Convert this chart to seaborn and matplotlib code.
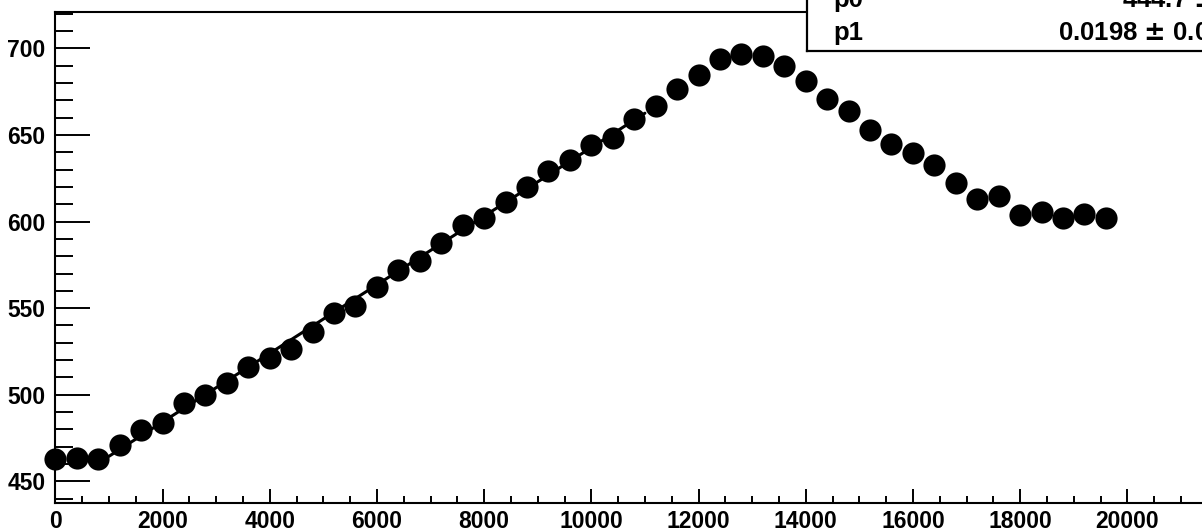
import matplotlib
matplotlib.use("Agg")
import matplotlib.pyplot as plt
from matplotlib.ticker import MultipleLocator
import seaborn as sns
import pandas as pd

# measured points (x step of 400)
x_vals = [0, 400, 800, 1200, 1600, 2000, 2400, 2800, 3200, 3600,
          4000, 4400, 4800, 5200, 5600, 6000, 6400, 6800, 7200, 7600,
          8000, 8400, 8800, 9200, 9600, 10000, 10400, 10800, 11200, 11600,
          12000, 12400, 12800, 13200, 13600, 14000, 14400, 14800, 15200, 15600,
          16000, 16400, 16800, 17200, 17600, 18000, 18400, 18800, 19200, 19600]
y_vals = [463, 463.5, 463, 471, 479.5, 484, 495, 500, 507, 516,
          521.5, 526.5, 536.5, 547, 551.5, 562, 572, 577, 587.5, 598,
          602, 611, 620, 629, 635.5, 644, 648, 659, 666.5, 676.5,
          684.5, 694, 696.5, 695.5, 690, 681, 670.5, 664, 653, 644.5,
          639.5, 632.5, 622.5, 613, 614.5, 604, 605.5, 602, 604.5, 602]

# linear fit shown in the stats box
p0 = 444.7
p1 = 0.0198
fit_range = [1000, 11000]

y_ticks = [450, 500, 550, 600, 650, 700]
x_ticks = [0, 2000, 4000, 6000, 8000, 10000, 12000, 14000, 16000, 18000, 20000]

df = pd.DataFrame({"x": x_vals, "y": y_vals})
fit_df = pd.DataFrame({"x": fit_range, "y": [p0 + p1 * v for v in fit_range]})

sns.set_style("ticks")
plt.rcParams["font.family"] = ["Liberation Sans", "DejaVu Sans"]
plt.rcParams["font.weight"] = "bold"
for key in ["text.color", "axes.labelcolor", "xtick.color", "ytick.color",
            "axes.edgecolor"]:
    plt.rcParams[key] = "black"

W, H = 1202, 531
fig = plt.figure(figsize=(W / 100, H / 100), dpi=100)
fig.patch.set_facecolor("white")

left_px, bottom_px, top_px = 55.3, 503.3, 12.0
x_scale = 0.0536  # px per unit
xmax = 22000
ax = fig.add_axes([left_px / W, (H - bottom_px) / H,
                   xmax * x_scale / W, (bottom_px - top_px) / H])

sns.lineplot(data=fit_df, x="x", y="y", ax=ax, color="black", linewidth=2.2, zorder=2)
sns.scatterplot(data=df, x="x", y="y", ax=ax, color="black", s=255,
                linewidth=0, zorder=3, clip_on=False)

ax.set_xlim(0, xmax)
ax.set_ylim(437.4, 720.9)
ax.set_xlabel("")
ax.set_ylabel("")

ax.set_xticks(x_ticks)
ax.set_yticks(y_ticks)
ax.xaxis.set_minor_locator(MultipleLocator(500))
ax.yaxis.set_minor_locator(MultipleLocator(10))
ax.tick_params(axis="y", which="major", direction="in", length=25, width=1.4,
               pad=7, labelsize=16.5)
ax.tick_params(axis="y", which="minor", direction="in", length=12.7, width=1.4)
ax.tick_params(axis="x", which="major", direction="in", length=10, width=1.4,
               pad=5, labelsize=16.5)
ax.tick_params(axis="x", which="minor", direction="in", length=4.8, width=1.4)
for lab in ax.get_xticklabels() + ax.get_yticklabels():
    lab.set_fontweight("bold")
for sp in ax.spines.values():
    sp.set_visible(True)
    sp.set_linewidth(1.5)
    sp.set_color("black")

# stats box (cut off at the figure edge, as in the original)
box = fig.add_axes([806.7 / W, (H - 51) / H, 0.5, 0.2])
box.set_facecolor("white")
box.set_xticks([])
box.set_yticks([])
for sp in box.spines.values():
    sp.set_linewidth(1.6)
    sp.set_color("black")

fs = 18.5
fig.text(833 / W, (H - 7) / H, "p0", fontsize=fs, fontweight="bold", va="baseline")
fig.text(833 / W, (H - 40) / H, "p1", fontsize=fs, fontweight="bold", va="baseline")
fig.text(1121.7 / W, (H - 7) / H, "444.7 $\\pm$ 0.5", fontsize=fs,
         fontweight="bold", va="baseline")
fig.text(1058 / W, (H - 40) / H, "0.0198 $\\pm$ 0.0001", fontsize=fs,
         fontweight="bold", va="baseline")

fig.savefig("out.png", dpi=100)
